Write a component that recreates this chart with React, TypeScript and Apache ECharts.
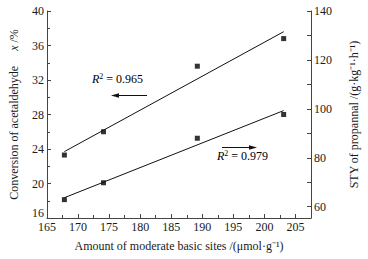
import React, { useEffect, useRef } from "react";
import * as echarts from "echarts";

const basicSites = [167.8, 174.1, 189.2, 203.1];
const conversion = [23.3, 26.0, 33.6, 36.8];
const sty = [62.9, 69.8, 88.0, 97.7];
const fitConvX = [167.8, 203.1];
const fitConvY = [23.7, 37.6];
const fitStyX = [167.8, 203.1];
const fitStyY = [63.7, 99.3];
const styLabels = [60, 80, 100, 120, 140];
const styTicks = [60, 70, 80, 90, 100, 110, 120, 130, 140];
const r2Conv = "0.965";
const r2Sty = "0.979";

const FONT = "Liberation Serif";
const TXT = "#1a1a1a";
const AX = "#444";

export default function App() {
  const ref = useRef<HTMLDivElement>(null);
  useEffect(() => {
    if (!ref.current) return;
    const chart = echarts.init(ref.current, undefined, { renderer: "svg" });
    const pair = (xs: number[], ys: number[]) => xs.map((x, i) => [x, ys[i]]);
    const rich = {
      i: { fontStyle: "italic", fontFamily: FONT, fontSize: 12, color: TXT },
      s: { fontFamily: FONT, fontSize: 8, color: TXT, verticalAlign: "top", padding: [0, 0, 6, 0] },
      n: { fontFamily: FONT, fontSize: 12, color: TXT },
    };
    chart.setOption({
      animation: false,
      textStyle: { fontFamily: FONT },
      grid: { left: 44, right: 50, top: 11, bottom: 41 },
      xAxis: {
        type: "value",
        min: 165,
        max: 207.5,
        interval: 5,
        axisLine: { lineStyle: { color: AX, width: 1 } },
        axisTick: { inside: true, length: 4, lineStyle: { color: AX } },
        minorTick: { show: true, splitNumber: 2, length: 3, lineStyle: { color: AX } },
        splitLine: { show: false },
        axisLabel: {
          color: TXT,
          fontFamily: FONT,
          fontSize: 12,
          margin: 3,
          showMaxLabel: false,
          formatter: (v: number) => (v % 5 === 0 ? String(v) : ""),
        },
        name: "Amount of moderate basic sites /(\u03bcmol\u00b7g\u207b\u00b9)",
        nameLocation: "middle",
        nameGap: 22,
        nameTextStyle: { color: TXT, fontFamily: FONT, fontSize: 12 },
      },
      yAxis: [
        {
          type: "value",
          min: 16,
          max: 40,
          interval: 4,
          position: "left",
          axisLine: { show: true, lineStyle: { color: AX } },
          axisTick: { show: true, inside: true, length: 4, lineStyle: { color: AX } },
          minorTick: { show: true, splitNumber: 2, length: 3, lineStyle: { color: AX } },
          splitLine: { show: false },
          axisLabel: {
            color: TXT,
            fontFamily: FONT,
            fontSize: 12,
            margin: 3,
            formatter: (v: number) => (v === 16 ? "{lo|16}" : String(v)),
            rich: { lo: { fontFamily: FONT, fontSize: 12, color: TXT, padding: [0, 0, 10, 0] } },
          },
          name: "{n|Conversion of acetaldehyde     }{i|x}{n| /%}",
          nameLocation: "middle",
          nameRotate: 90,
          nameGap: 27,
          nameTextStyle: { color: TXT, fontFamily: FONT, fontSize: 12, rich },
        },
        {
          type: "value",
          min: 55.4,
          max: 140,
          position: "right",
          axisLine: { show: true, lineStyle: { color: AX } },
          axisTick: { show: true, inside: true, length: 4, lineStyle: { color: AX }, customValues: styTicks },
          splitLine: { show: false },
          axisLabel: { color: TXT, fontFamily: FONT, fontSize: 12, margin: 3, customValues: styLabels },
          name: "STY of propannal /(g\u00b7kg\u207b\u00b9\u00b7h\u207b\u00b9)",
          nameLocation: "middle",
          nameRotate: 90,
          nameGap: 37,
          nameTextStyle: { color: TXT, fontFamily: FONT, fontSize: 12 },
        },
      ],
      series: [
        {
          type: "line",
          yAxisIndex: 0,
          data: pair(fitConvX, fitConvY),
          symbol: "none",
          lineStyle: { color: "#111", width: 1 },
          silent: true,
        },
        {
          type: "line",
          yAxisIndex: 1,
          data: pair(fitStyX, fitStyY),
          symbol: "none",
          lineStyle: { color: "#111", width: 1 },
          silent: true,
        },
        {
          type: "scatter",
          yAxisIndex: 0,
          data: pair(basicSites, conversion),
          symbol: "rect",
          symbolSize: 5,
          itemStyle: { color: "#000" },
        },
        {
          type: "scatter",
          yAxisIndex: 1,
          data: pair(basicSites, sty),
          symbol: "rect",
          symbolSize: 5,
          itemStyle: { color: "#000" },
        },
      ],
      graphic: [
        {
          type: "text",
          x: 92,
          y: 79,
          style: { text: "{i|R}{s|2}{n| = " + r2Conv + "}", rich, verticalAlign: "middle" },
        },
        {
          type: "line",
          shape: { x1: 147, y1: 95.5, x2: 116, y2: 95.5 },
          style: { stroke: "#111", lineWidth: 1 },
        },
        {
          type: "polygon",
          shape: { points: [[111, 95.5], [119, 93.3], [119, 97.7]] },
          style: { fill: "#111" },
        },
        {
          type: "text",
          x: 217,
          y: 156,
          style: { text: "{i|R}{s|2}{n| = " + r2Sty + "}", rich, verticalAlign: "middle" },
        },
        {
          type: "line",
          shape: { x1: 222, y1: 147.5, x2: 252, y2: 147.5 },
          style: { stroke: "#111", lineWidth: 1 },
        },
        {
          type: "polygon",
          shape: { points: [[257, 147.5], [249, 145.3], [249, 149.7]] },
          style: { fill: "#111" },
        },
      ],
    });
    return () => chart.dispose();
  }, []);
  return <div ref={ref} style={{ width: 368, height: 259, position: "absolute", left: 0, top: 0, background: "#fff" }} />;
}
